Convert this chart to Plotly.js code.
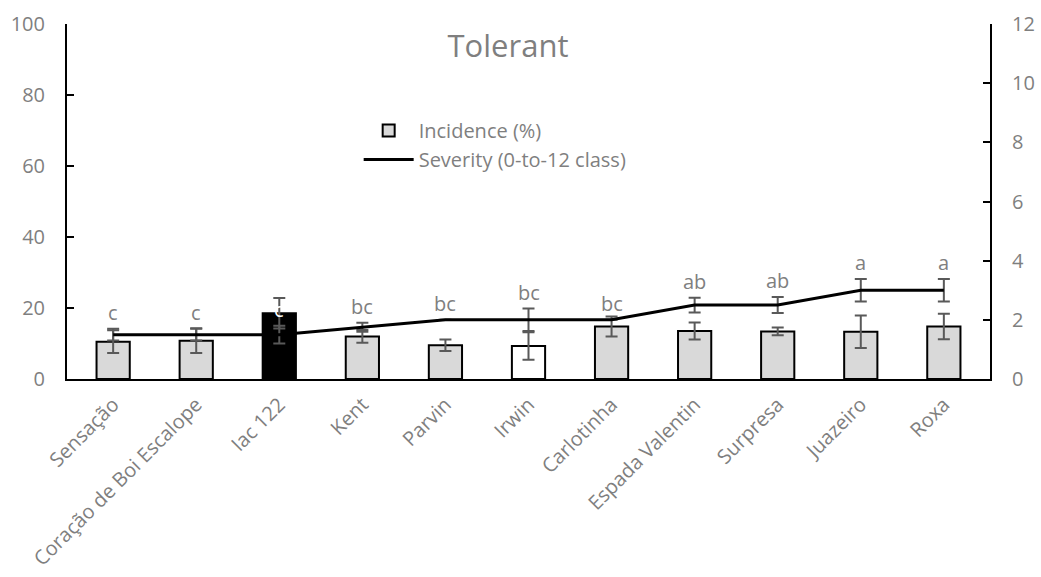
<!DOCTYPE html>
<html><head><meta charset="utf-8">
<script src="https://cdn.plot.ly/plotly-3.0.1.min.js"></script>
<style>body{margin:0;padding:0;background:#fff}#chart{width:1041px;height:577px}</style>
</head><body><div id="chart"></div>
<script>
var categories = ["Sensação","Coração de Boi Escalope","Iac 122","Kent","Parvin","Irwin","Carlotinha","Espada Valentin","Surpresa","Juazeiro","Roxa"];
var incidence = [10.5, 10.8, 18.5, 12.0, 9.5, 9.3, 14.8, 13.5, 13.4, 13.3, 14.8];
var incidenceErr = [3.2, 3.5, 4.3, 1.8, 1.6, 3.9, 2.8, 2.4, 1.1, 4.6, 3.6];
var severity = [1.5, 1.5, 1.5, 1.75, 2.0, 2.0, 2.0, 2.5, 2.5, 3.0, 3.0];
var severityErr = [0.2, 0.2, 0.3, 0.15, 0.0, 0.38, 0.0, 0.25, 0.27, 0.38, 0.38];
var letters = ["c","c","c","bc","bc","bc","bc","ab","ab","a","a"];
var barFill = ["#D9D9D9","#D9D9D9","#000000","#D9D9D9","#D9D9D9","#FFFFFF","#D9D9D9","#D9D9D9","#D9D9D9","#D9D9D9","#D9D9D9"];

var FONT = "Open Sans, Liberation Sans, sans-serif";
var TXT = "#7F7F7F";
var ERR = "#595959";

var traces = [
  {type:"bar", name:"Incidence (%)", x:categories, y:incidence, width:0.4,
   marker:{color:barFill, line:{color:"#000", width:2}},
   error_y:{type:"data", array:incidenceErr, visible:true, color:ERR, thickness:2, width:6}},
  {type:"scatter", mode:"lines", name:"Severity (0-to-12 class)", x:categories, y:severity, yaxis:"y2",
   line:{color:"#000", width:3},
   error_y:{type:"data", array:severityErr, visible:true, color:ERR, thickness:2, width:6}}
];

var annotations = categories.map(function(c,i){
  return {x:c, y:severity[i]+severityErr[i], xref:"x", yref:"y2", text:letters[i], showarrow:false,
    yanchor:"bottom", yshift:1, font:{family:FONT, size:20, color:(i===2?"#fff":TXT)}};
});

var layout = {
  width:1041, height:577,
  margin:{l:67, r:51, t:24, b:198},
  paper_bgcolor:"#fff", plot_bgcolor:"#fff",
  font:{family:FONT, color:TXT, size:20},
  title:{text:"Tolerant", x:0.488, xanchor:"center", y:0.92, yanchor:"middle",
         font:{family:FONT, size:31, color:TXT}},
  showlegend:true,
  legend:{x:0.316, y:0.755, xanchor:"left", yanchor:"top", bgcolor:"rgba(0,0,0,0)",
          font:{family:FONT, size:20, color:TXT}, itemwidth:50, tracegroupgap:0},
  xaxis:{showline:true, linecolor:"#000", linewidth:2, ticks:"", tickangle:-45,
         tickfont:{family:FONT, size:20, color:TXT}, showgrid:false, zeroline:false, automargin:false,
         ticklabelstandoff:4},
  yaxis:{range:[0,100], dtick:20, showline:true, linecolor:"#000", linewidth:2,
         ticks:"inside", ticklen:7, tickcolor:"#000", tickwidth:2, showgrid:false, zeroline:false,
         tickfont:{family:FONT, size:20, color:TXT}, automargin:false, ticklabelstandoff:16},
  yaxis2:{range:[0,12], dtick:2, overlaying:"y", side:"right", showline:true, linecolor:"#000", linewidth:2,
         ticks:"inside", ticklen:7, tickcolor:"#000", tickwidth:2, showgrid:false, zeroline:false,
         tickfont:{family:FONT, size:20, color:TXT}, automargin:false, ticklabelstandoff:16},
  annotations:annotations
};
Plotly.newPlot("chart", traces, layout, {displayModeBar:false, staticPlot:true});
</script></body></html>
